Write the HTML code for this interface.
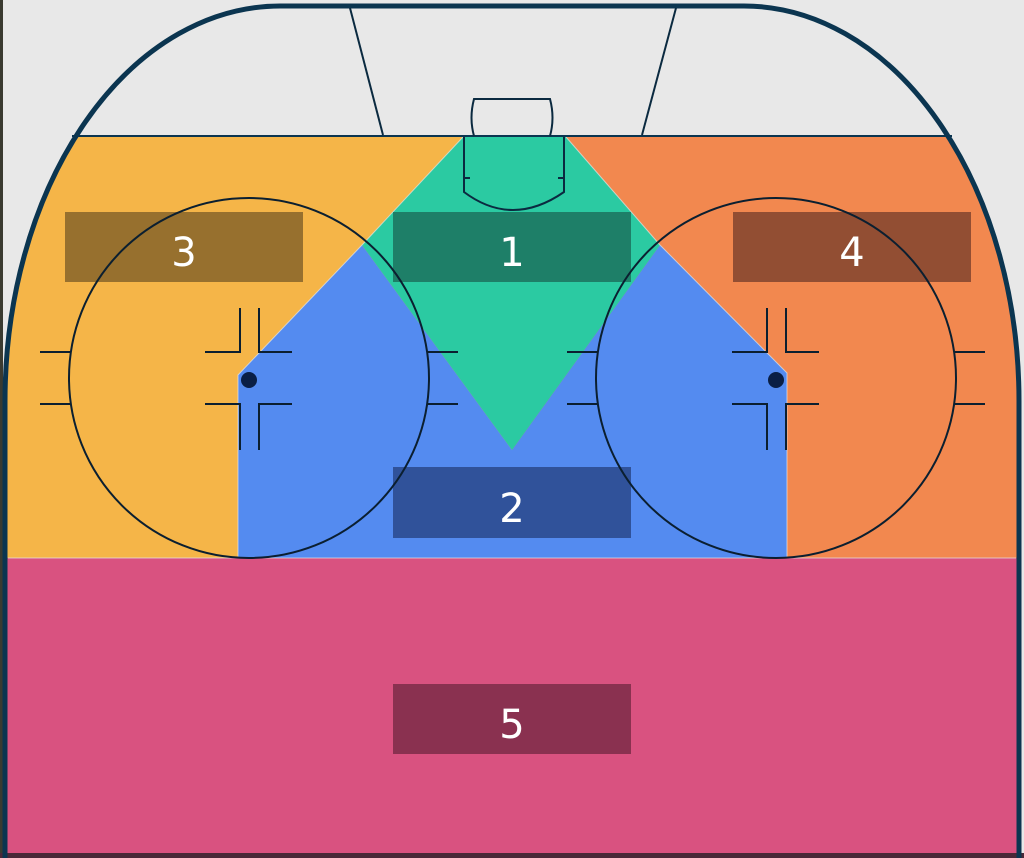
<!DOCTYPE html>
<html><head><style>
html,body{margin:0;padding:0;background:#e9e9e9;}
svg{display:block;}
</style></head><body>
<svg width="1024" height="858" viewBox="0 0 1024 858" xmlns="http://www.w3.org/2000/svg">
<defs>
<clipPath id="rink"><path d="M5,858 L5,401 A275,395 0 0 1 280,6 L744,6 A275,395 0 0 1 1019,401 L1019,858 Z"/></clipPath>
</defs>
<rect width="1024" height="858" fill="#e8e8e8"/>
<rect x="0" y="0" width="3" height="858" fill="#3a3a30"/>
<g clip-path="url(#rink)">
<rect x="0" y="137" width="512" height="421" fill="#f5b548"/>
<rect x="512" y="137" width="512" height="421" fill="#f2884f"/>
<rect x="0" y="558" width="1024" height="300" fill="#d95280"/>
</g>
<polygon points="362,245 512,450 660,245 787,373 787,558 238,558 238,375" fill="#548bf0"/>
<polygon points="463,137 566,137 660,245 512,450 362,245" fill="#2bcaa2"/>
<g stroke="#e6e6e6" stroke-width="1" fill="none" opacity="0.7">
<polyline points="463,137 362,245 238,375 238,558"/>
<polyline points="566,137 660,245 787,373 787,558"/>
<line x1="8" y1="558" x2="1016" y2="558"/>
</g>
<rect x="0" y="853" width="1024" height="5" fill="#4a2838"/>
<path d="M5,858 L5,401 A275,395 0 0 1 280,6 L744,6 A275,395 0 0 1 1019,401 L1019,858" fill="none" stroke="#0b3550" stroke-width="5"/>
<line x1="72" y1="136" x2="952" y2="136" stroke="#0b3550" stroke-width="2"/>
<g stroke="#0b2a40" stroke-width="2" fill="none">
<line x1="350" y1="8" x2="383" y2="135"/>
<line x1="676" y1="8" x2="642" y2="135"/>
<path d="M474,136 Q469,118 474,99 L550,99 Q555,118 550,136"/>
<path d="M464,137 L464,192 Q512,228 564,192 L564,137"/>
<line x1="464" y1="178" x2="470" y2="178"/><line x1="558" y1="178" x2="564" y2="178"/>
</g>
<g font-family="DejaVu Sans, Liberation Sans, sans-serif" font-size="40" fill="#fff" text-anchor="middle">
<rect x="65" y="212" width="238" height="70" fill="#97702e"/>
<text x="184" y="266">3</text>
<rect x="393" y="212" width="238" height="70" fill="#1e7f68"/>
<text x="512" y="266">1</text>
<rect x="733" y="212" width="238" height="70" fill="#924e33"/>
<text x="852" y="266">4</text>
<rect x="393" y="467" width="238" height="71" fill="#30529a"/>
<text x="512" y="522">2</text>
<rect x="393" y="684" width="238" height="70" fill="#8a3150"/>
<text x="512" y="738">5</text>
</g>
<g stroke="#0b1f30" stroke-width="2" fill="none">
<circle cx="249" cy="378" r="180"/>
<circle cx="776" cy="378" r="180"/>
<path d="M40,352H70M40,404H70M428,352H458M428,404H458"/>
<path d="M240,308V352H205M259,308V352H292M240,450V404H205M259,450V404H292"/>
<path d="M567,352H597M567,404H597M955,352H985M955,404H985"/>
<path d="M767,308V352H732M786,308V352H819M767,450V404H732M786,450V404H819"/>
</g>
<circle cx="249" cy="380" r="8" fill="#0a1f45"/>
<circle cx="776" cy="380" r="8" fill="#0a1f45"/>
</svg>
</body></html>
